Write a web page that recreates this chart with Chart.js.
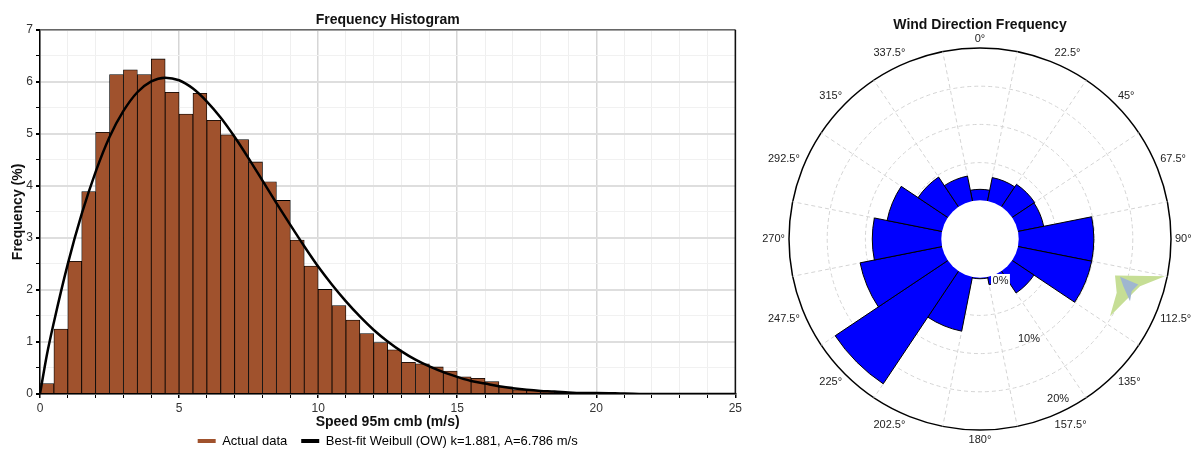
<!DOCTYPE html>
<html>
<head>
<meta charset="utf-8">
<script src="https://cdn.jsdelivr.net/npm/chart.js@4.4.0/dist/chart.umd.min.js"></script>
<style>
  html, body { margin: 0; padding: 0; background: #fff; }
  #histWrap { position: absolute; left: 0; top: 0; width: 745px; height: 449px; }
  #roseWrap { position: absolute; left: 760px; top: 0; width: 435px; height: 449px; }
</style>
</head>
<body>
<div id="histWrap"><canvas id="histChart"></canvas></div>
<div id="roseWrap"><canvas id="roseChart"></canvas></div>
<script>
// Speed histogram: bin centres (m/s) and frequency (%) per 0.5 m/s bin.
const speedBins = [0.25, 0.75, 1.25, 1.75, 2.25, 2.75, 3.25, 3.75, 4.25, 4.75,
  5.25, 5.75, 6.25, 6.75, 7.25, 7.75, 8.25, 8.75, 9.25, 9.75,
  10.25, 10.75, 11.25, 11.75, 12.25, 12.75, 13.25, 13.75, 14.25, 14.75,
  15.25, 15.75, 16.25, 16.75, 17.25, 17.75, 18.25, 18.75, 19.25];
const binFreq = [0.20, 1.25, 2.55, 3.89, 5.03, 6.14, 6.23, 6.14, 6.44, 5.80,
  5.38, 5.78, 5.26, 4.98, 4.89, 4.46, 4.08, 3.72, 2.96, 2.46,
  2.01, 1.70, 1.42, 1.16, 0.99, 0.85, 0.61, 0.58, 0.52, 0.44,
  0.33, 0.30, 0.24, 0.14, 0.08, 0.07, 0.05, 0.03, 0.02];

// Best-fit Weibull curve.
const fitSpeed = [0, 0.25, 0.5, 1, 1.5, 2, 2.5, 3, 3.5, 4, 4.5, 5, 5.5, 6, 6.5, 7, 7.5, 8, 8.5, 9, 9.5,
  10, 10.5, 11, 11.5, 12, 12.5, 13, 13.5, 14, 14.5, 15, 15.5, 16, 16.5, 17, 17.5, 18, 18.5, 19, 19.5,
  20, 21, 22, 23, 24, 25];
const fitFreq = [0, 0.76, 1.38, 2.50, 3.46, 4.27, 4.94, 5.44, 5.80, 6.01, 6.08, 6.03, 5.87, 5.62, 5.31, 4.94, 4.53, 4.10, 3.67, 3.25, 2.84,
  2.45, 2.10, 1.78, 1.49, 1.23, 1.01, 0.82, 0.66, 0.53, 0.42, 0.33, 0.25, 0.20, 0.15, 0.11, 0.08, 0.06, 0.05, 0.03, 0.02,
  0.02, 0.01, 0, 0, 0, 0];
const fitLabel = "Best-fit Weibull (OW) k=1.881, A=6.786 m/s";

// Wind rose: 16 direction sectors and frequency (%).
const windDirs = ["0°", "22.5°", "45°", "67.5°", "90°", "112.5°", "135°", "157.5°",
  "180°", "202.5°", "225°", "247.5°", "270°", "292.5°", "315°", "337.5°"];
const windFreq = [1.5, 3.2, 3.6, 3.5, 9.9, 9.9, 3.5, 1.1,
  0.2, 7.3, 17.8, 11.0, 9.1, 7.4, 4.75, 3.4];
const ringLabels = ["0%", "10%", "20%"];
const ringValues = [0, 10, 20];

Chart.defaults.font.family = "'Liberation Sans', Arial, sans-serif";
Chart.defaults.color = "#222";

const barColour = "#a0522d";

// dark frame round the histogram plot area
const plotFrame = {
  id: "plotFrame",
  afterDraw(chart) {
    const a = chart.chartArea, ctx = chart.ctx;
    ctx.save();
    ctx.lineWidth = 1.5;
    ctx.strokeStyle = "#666";
    ctx.beginPath();
    ctx.moveTo(a.left, a.top);
    ctx.lineTo(a.right, a.top);
    ctx.stroke();
    ctx.strokeStyle = "#111";
    ctx.beginPath();
    ctx.moveTo(a.right, a.top);
    ctx.lineTo(a.right, a.bottom);
    ctx.stroke();
    ctx.restore();
  }
};

new Chart(document.getElementById("histChart"), {
  type: "bar",
  data: {
    datasets: [
      {
        label: "Actual data",
        data: speedBins.map((x, i) => ({ x: x, y: binFreq[i] })),
        backgroundColor: barColour,
        borderColor: "#000",
        borderWidth: 0.8,
        barPercentage: 1,
        categoryPercentage: 1,
        order: 2
      },
      {
        type: "line",
        label: fitLabel,
        data: fitSpeed.map((x, i) => ({ x: x, y: fitFreq[i] })),
        borderColor: "#000",
        borderWidth: 2.5,
        pointRadius: 0,
        fill: false,
        cubicInterpolationMode: "monotone",
        order: 1
      }
    ]
  },
  options: {
    responsive: true,
    maintainAspectRatio: false,
    animation: false,
    layout: { padding: { left: 0, right: 8, top: 0, bottom: -8.5 } },
    plugins: {
      title: {
        display: true,
        text: "Frequency Histogram",
        fullSize: false,
        color: "#111",
        font: { size: 14, weight: "bold" },
        padding: { top: 12, bottom: 1 }
      },
      legend: {
        position: "bottom",
        fullSize: false,
        labels: {
          boxWidth: 18,
          boxHeight: 4,
          padding: 14,
          color: "#222",
          font: { size: 13 },
          generateLabels: () => [
            { text: "Actual data", fillStyle: barColour, strokeStyle: barColour, lineWidth: 0, hidden: false, datasetIndex: 0 },
            { text: fitLabel, fillStyle: "#000", strokeStyle: "#000", lineWidth: 0, hidden: false, datasetIndex: 1 }
          ]
        }
      },
      tooltip: { enabled: false }
    },
    scales: {
      x: {
        type: "linear",
        min: 0,
        max: 25,
        offset: false,
        afterFit: s => { s.height = 26.5; },
        ticks: {
          stepSize: 1,
          autoSkip: false,
          maxRotation: 0,
          padding: 3,
          color: "#333",
          font: { size: 12 },
          callback: v => (v % 5 === 0 ? String(v) : "")
        },
        grid: {
          offset: false,
          color: c => (c.tick && c.tick.value % 5 === 0 ? "#d6d6d6" : "#efefef"),
          lineWidth: c => (c.tick && c.tick.value % 5 === 0 ? 1.5 : 1),
          tickColor: "#000",
          tickLength: 4
        },
        border: { color: "#000", width: 1.5 },
        title: {
          display: true,
          text: "Speed 95m cmb (m/s)",
          color: "#111",
          font: { size: 14, weight: "bold", lineHeight: 1 },
          padding: { top: 0, bottom: -8.5 }
        }
      },
      y: {
        min: 0,
        max: 7,
        afterFit: s => { s.width = 40; },
        ticks: {
          stepSize: 0.5,
          autoSkip: false,
          padding: 3,
          color: "#333",
          font: { size: 12 },
          callback: v => (Number.isInteger(v) ? String(v) : "")
        },
        grid: {
          color: c => (c.tick && Number.isInteger(c.tick.value) ? "#dedede" : "#f1f1f1"),
          lineWidth: c => (c.tick && Number.isInteger(c.tick.value) ? 2 : 1),
          tickColor: "#000",
          tickLength: 4
        },
        border: { color: "#000", width: 1.5 },
        title: {
          display: true,
          text: "Frequency (%)",
          color: "#111",
          font: { size: 14, weight: "bold", lineHeight: 1 },
          padding: { top: 11, bottom: 0 }
        }
      }
    }
  },
  plugins: [plotFrame]
});

// hollow centre, ring labels, direction labels and the little marker
const roseDecor = {
  id: "roseDecor",
  afterDatasetsDraw(chart) {
    const s = chart.scales.r, ctx = chart.ctx;
    const cx = s.xCenter, cy = s.yCenter;
    ctx.save();
    ctx.beginPath();
    ctx.arc(cx, cy, s.getDistanceFromCenterForValue(0) + 0.5, 0, Math.PI * 2);
    ctx.fillStyle = "#fff";
    ctx.fill();

    // percent labels along a line towards 154 degrees
    const offs = [8.5, -3, -13];
    const a = (154 - 90) * Math.PI / 180;
    ctx.font = "11px 'Liberation Sans', Arial, sans-serif";
    ctx.textAlign = "center";
    ctx.textBaseline = "middle";
    ringLabels.forEach((t, i) => {
      const r = s.getDistanceFromCenterForValue(ringValues[i]) + offs[i];
      const x = cx + Math.cos(a) * r, y = cy + Math.sin(a) * r;
      if (i === 0) {
        const w = ctx.measureText(t).width;
        ctx.fillStyle = "#fff";
        ctx.fillRect(x - w / 2 - 1.5, y - 7, w + 3, 14);
      }
      ctx.fillStyle = "#222";
      ctx.fillText(t, x, y);
    });

    // small green / blue marker right of the rose
    const green = [[135, 36.5], [185, 37.2], [160, 47.2], [153.3, 53.8], [130, 77.2], [136.7, 53.8]];
    const blue = [[140, 37.8], [158.3, 45.5], [151.7, 52.2], [150, 62.2], [143.3, 47.2]];
    [[green, "#c6de95"], [blue, "#9fb6cf"]].forEach(([pts, col]) => {
      ctx.beginPath();
      pts.forEach(([dx, dy], j) => (j ? ctx.lineTo(cx + dx, cy + dy) : ctx.moveTo(cx + dx, cy + dy)));
      ctx.closePath();
      ctx.fillStyle = col;
      ctx.fill();
    });
    ctx.restore();
  },
  afterDraw(chart) {
    const s = chart.scales.r, ctx = chart.ctx;
    const R = s.drawingArea + 4;
    const half = Math.PI / windDirs.length;
    ctx.save();
    ctx.font = "11px 'Liberation Sans', Arial, sans-serif";
    ctx.fillStyle = "#222";
    windDirs.forEach((t, i) => {
      const ang = s.getIndexAngle(i) + half;
      const deg = Math.round(ang * 1800 / Math.PI) / 10 % 360;
      const x = s.xCenter + Math.cos(ang - Math.PI / 2) * R;
      const y = s.yCenter + Math.sin(ang - Math.PI / 2) * R;
      ctx.textAlign = deg === 0 || deg === 180 ? "center" : deg < 180 ? "left" : "right";
      ctx.textBaseline = deg === 90 || deg === 270 ? "middle" : deg < 90 || deg > 270 ? "bottom" : "top";
      ctx.fillText(t, x, y);
    });
    ctx.restore();
  }
};

new Chart(document.getElementById("roseChart"), {
  type: "polarArea",
  data: {
    labels: windDirs,
    datasets: [{
      data: windFreq,
      backgroundColor: "#0000ff",
      borderColor: "#000",
      borderWidth: 1
    }]
  },
  options: {
    responsive: true,
    maintainAspectRatio: false,
    animation: false,
    layout: { padding: { left: 29, right: 24, top: 0, bottom: 18 } },
    plugins: {
      legend: { display: false },
      tooltip: { enabled: false },
      title: {
        display: true,
        text: "Wind Direction Frequency",
        color: "#111",
        font: { size: 14, weight: "bold" },
        padding: { top: 17, bottom: 14 }
      }
    },
    scales: {
      r: {
        min: -5,
        max: 20,
        startAngle: -11.25,
        ticks: { display: false, stepSize: 5 },
        pointLabels: { display: false },
        grid: {
          circular: true,
          color: c => (c.tick && c.tick.value === 20 ? "#000" : "#d4d4d4"),
          lineWidth: c => (c.tick && c.tick.value === 20 ? 1.5 : 1)
        },
        border: { dash: c => (c.tick && c.tick.value === 20 ? [] : [4, 3]) },
        angleLines: { display: true, color: "#d4d4d4", lineWidth: 1, borderDash: [4, 3] }
      }
    }
  },
  plugins: [roseDecor]
});
</script>
</body>
</html>
